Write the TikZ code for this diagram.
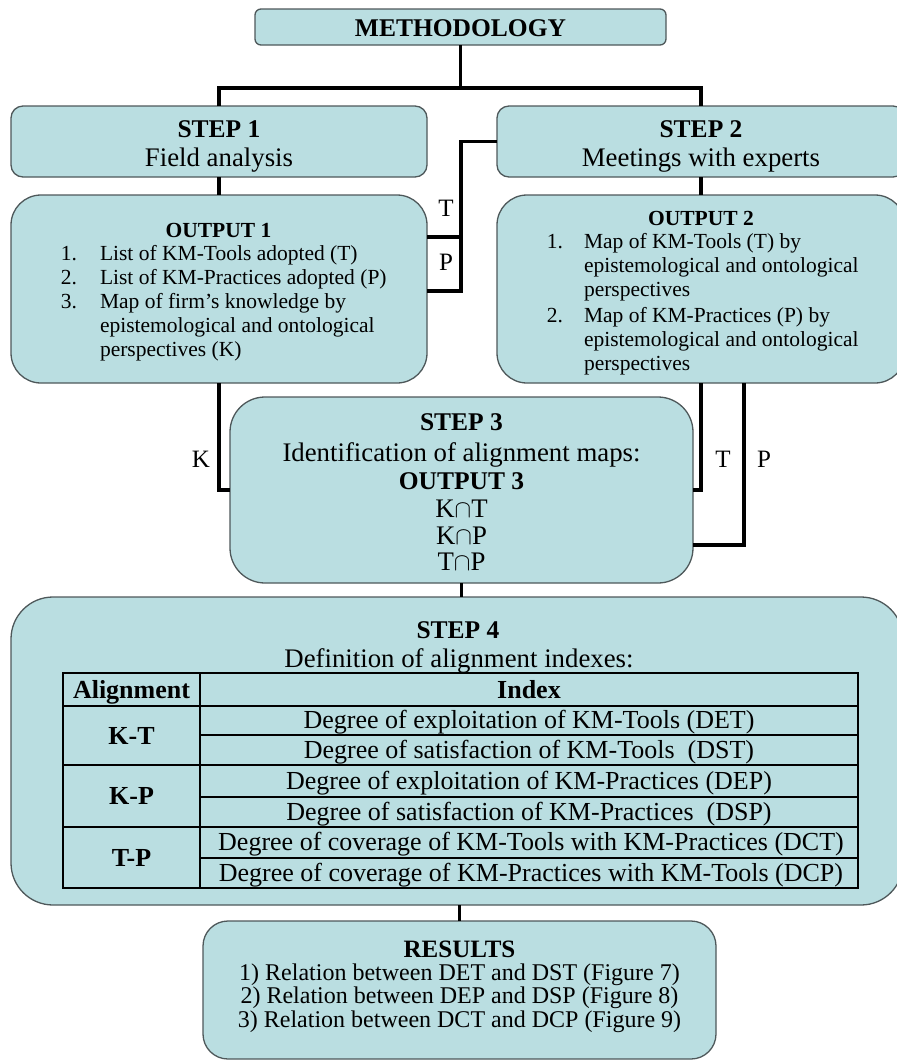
\documentclass[tikz,border=0pt]{standalone}
\usepackage{fontspec}
\setmainfont{Liberation Serif}
\definecolor{boxfill}{RGB}{186,222,225}
\definecolor{boxline}{RGB}{78,88,90}
\begin{document}
\begin{tikzpicture}[x=1pt,y=-1pt,
  box/.style={draw=boxline,fill=boxfill,line width=1.3pt,inner sep=0pt,outer sep=0pt},
  conn/.style={draw=black,line width=3.2pt},
  grid/.style={draw=black,line width=1.4pt},
  lbl/.style={anchor=base,inner sep=0pt,outer sep=0pt},
  num/.style={anchor=base east,inner sep=0pt,outer sep=0pt},
  item/.style={anchor=base west,inner sep=0pt,outer sep=0pt},
  big/.style={font=\fontsize{26.8}{29}\selectfont},
  bigb/.style={font=\fontsize{25.5}{28}\selectfont\bfseries},
  med/.style={font=\fontsize{21.5}{24}\selectfont},
  medb/.style={font=\fontsize{21.5}{24}\selectfont\bfseries},
  tab/.style={font=\fontsize{26}{28}\selectfont},
  tabb/.style={font=\fontsize{26}{28}\selectfont\bfseries},
  res/.style={font=\fontsize{24}{26}\selectfont},
  resb/.style={font=\fontsize{25}{27}\selectfont\bfseries},
  tag/.style={anchor=base,inner sep=0pt,font=\fontsize{25}{27}\selectfont}]
\useasboundingbox (0,0) rectangle (897,1061);

% ---------- boxes ----------
\node[box,rounded corners=6pt,minimum width=411pt,minimum height=36pt] (meth) at (460.5,27) {};
\node[box,rounded corners=12pt,minimum width=416pt,minimum height=71pt] (step1) at (219,141.5) {};
\node[box,rounded corners=12pt,minimum width=408pt,minimum height=71pt] (step2) at (701,141.5) {};
\node[box,rounded corners=30pt,minimum width=416pt,minimum height=188pt] (out1) at (219,289) {};
\node[box,rounded corners=30pt,minimum width=408pt,minimum height=188pt] (out2) at (701,289) {};
\node[box,rounded corners=35pt,minimum width=463pt,minimum height=186pt] (step3) at (461.5,490) {};
\node[box,rounded corners=42pt,minimum width=892pt,minimum height=308pt] (step4) at (457,751) {};
\node[box,rounded corners=25pt,minimum width=513pt,minimum height=138pt] (results) at (459.5,990) {};

% ---------- connectors ----------
\coordinate (j0) at (460.5,88);
\draw[conn] (meth.south) -- (j0);
\draw[conn] (step1.north) |- (j0) -| (step2.north);
\draw[conn] (step1.south) -- (out1.north);
\draw[conn] (step2.south) -- (out2.north);
% T and P from step 2 back to output 1
\coordinate (tpm) at (461,237);
\coordinate (tpb) at (461,291);
\draw[conn] (step2.west) -| (tpb) -- (tpb -| out1.east);
\draw[conn] (tpm) -- (tpm -| out1.east);
% K, T, P into step 3
\draw[conn] (out1.south) |- (step3.west);
\draw[conn] (out2.south) |- (step3.east);
\coordinate (pcol) at (744,545);
\draw[conn] (pcol |- out2.south) -- (pcol) -- (pcol -| step3.east);
\draw[conn] (step3.south) -- (step3.south |- step4.north);
\draw[conn] (results.north) -- (results.north |- step4.south);

% connector tags
\node[tag] (tagT1) at (446,216) {T};
\node[tag] (tagP1) at (446,270) {P};
\node[tag] (tagK) at (201,467) {K};
\node[tag] (tagT2) at (723,467) {T};
\node[tag] (tagP2) at (764,467) {P};

% ---------- texts ----------
\node[lbl,bigb] (methT) at (460.5,36) {METHODOLOGY};

\node[lbl,bigb] (s1a) at (219,137) {STEP 1};
\node[lbl,big]  (s1b) at (219,166) {Field analysis};
\node[lbl,bigb] (s2a) at (701,137) {STEP 2};
\node[lbl,big]  (s2b) at (701,166) {Meetings with experts};

\node[lbl,medb] (o1h) at (218.5,237) {OUTPUT 1};
\node[num,med] (o1n1) at (77,260) {1.};
\node[item,med] (o1t1) at (100,260) {List of KM-Tools adopted (T)};
\node[num,med] (o1n2) at (77,284) {2.};
\node[item,med] (o1t2) at (100,284) {List of KM-Practices adopted (P)};
\node[num,med] (o1n3) at (77,308) {3.};
\node[item,med] (o1t3) at (100,308) {Map of firm’s knowledge by};
\node[item,med] (o1t4) at (100,332) {epistemological and ontological};
\node[item,med] (o1t5) at (100,356) {perspectives (K)};

\node[lbl,medb] (o2h) at (701,225) {OUTPUT 2};
\node[num,med] (o2n1) at (563,248) {1.};
\node[item,med] (o2t1) at (584,248) {Map of KM-Tools (T) by};
\node[item,med] (o2t2) at (584,272) {epistemological and ontological};
\node[item,med] (o2t3) at (584,296) {perspectives};
\node[num,med] (o2n2) at (563,322) {2.};
\node[item,med] (o2t4) at (584,322) {Map of KM-Practices (P) by};
\node[item,med] (o2t5) at (584,346) {epistemological and ontological};
\node[item,med] (o2t6) at (584,370) {perspectives};

\node[lbl,bigb] (s3a) at (461.5,430) {STEP 3};
\node[lbl,big]  (s3b) at (461.5,461) {Identification of alignment maps:};
\node[lbl,bigb] (s3c) at (461.5,489) {OUTPUT 3};
\node[lbl,big]  (s3d) at (461.5,517) {K{$\cap$}T};
\node[lbl,big]  (s3e) at (461.5,544) {K{$\cap$}P};
\node[lbl,big]  (s3f) at (461.5,570) {T{$\cap$}P};

\node[lbl,bigb] (s4a) at (458,638) {STEP 4};
\node[lbl,big]  (s4b) at (459,667) {Definition of alignment indexes:};

% ---------- index table ----------
\draw[grid] (63,673) rectangle (858,888);
\draw[grid] (200,673) -- (200,888);
\foreach \yy in {706,765,827} \draw[grid] (63,\yy) -- (858,\yy);
\foreach \yy in {735,797,858} \draw[grid] (200,\yy) -- (858,\yy);

\node[lbl,tabb] (thA) at (131.5,698) {Alignment};
\node[lbl,tabb] (thI) at (529,698) {Index};
\node[lbl,tabb] (tKT) at (131.5,744) {K-T};
\node[lbl,tabb] (tKP) at (131.5,804) {K-P};
\node[lbl,tabb] (tTP) at (131.5,866) {T-P};
\node[lbl,tab] (r1) at (529,728.5) {Degree of exploitation of KM-Tools (DET)};
\node[lbl,tab] (r2) at (529,758) {Degree of satisfaction of KM-Tools\ \ (DST)};
\node[lbl,tab] (r3) at (529,789) {Degree of exploitation of KM-Practices (DEP)};
\node[lbl,tab] (r4) at (529,820) {Degree of satisfaction of KM-Practices\ \ (DSP)};
\node[lbl,tab] (r5) at (531,850.5) {Degree of coverage of KM-Tools with KM-Practices (DCT)};
\node[lbl,tab] (r6) at (531,881) {Degree of coverage of KM-Practices with KM-Tools (DCP)};

\node[lbl,resb] (rsh) at (459.5,957) {RESULTS};
\node[lbl,res] (rs1) at (459.5,980) {1) Relation between DET and DST (Figure 7)};
\node[lbl,res] (rs2) at (459.5,1003.5) {2) Relation between DEP and DSP (Figure 8)};
\node[lbl,res] (rs3) at (459.5,1027) {3) Relation between DCT and DCP (Figure 9)};
\end{tikzpicture}
\end{document}
